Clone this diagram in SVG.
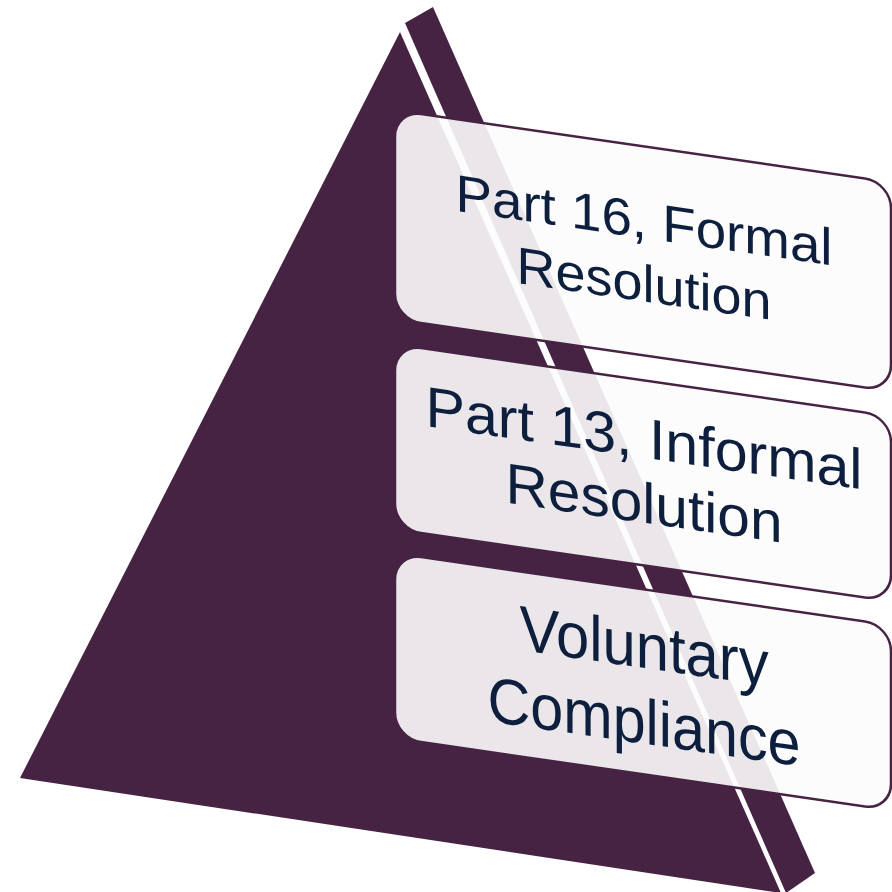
<svg xmlns="http://www.w3.org/2000/svg" width="892" height="892" viewBox="0 0 892 892">
  <style>
    .face { fill: #462343; }
    .box { fill: #FCFCFD; fill-opacity: 0.9; stroke: #462343; stroke-width: 2.5; }
    .label { font-family: "Liberation Sans", Arial, sans-serif; fill: #0D1F3D; text-anchor: middle; }
  </style>
  <rect width="892" height="892" fill="#FFFFFF"/>

  <!-- pyramid: front face and narrow side face -->
  <g id="pyramid">
    <polygon class="face" points="400,32 20,778 781,893"/>
    <polygon class="face" points="405,23 433,7 815,873 786,893"/>
  </g>

  <!-- tiers, drawn in a skewed plane -->
  <g transform="matrix(1 0.145 0 1 0 0)">
    <g id="tier-formal">
      <rect class="box" x="395" y="53" width="496" height="209" rx="26"/>
      <text class="label" x="644" y="144.7" font-size="52" textLength="377" lengthAdjust="spacingAndGlyphs">Part 16, Formal</text>
      <text class="label" x="644" y="208" font-size="52" textLength="255" lengthAdjust="spacingAndGlyphs">Resolution</text>
    </g>
    <g id="tier-informal">
      <rect class="box" x="395" y="287" width="496" height="185" rx="26"/>
      <text class="label" x="644" y="364.3" font-size="57" textLength="437" lengthAdjust="spacingAndGlyphs">Part 13, Informal</text>
      <text class="label" x="644" y="429.3" font-size="57" textLength="277" lengthAdjust="spacingAndGlyphs">Resolution</text>
    </g>
    <g id="tier-voluntary">
      <rect class="box" x="395" y="496" width="496" height="185" rx="26"/>
      <text class="label" x="644" y="574.6" font-size="64" textLength="249" lengthAdjust="spacingAndGlyphs">Voluntary</text>
      <text class="label" x="644" y="650.3" font-size="64" textLength="313" lengthAdjust="spacingAndGlyphs">Compliance</text>
    </g>
  </g>
</svg>
